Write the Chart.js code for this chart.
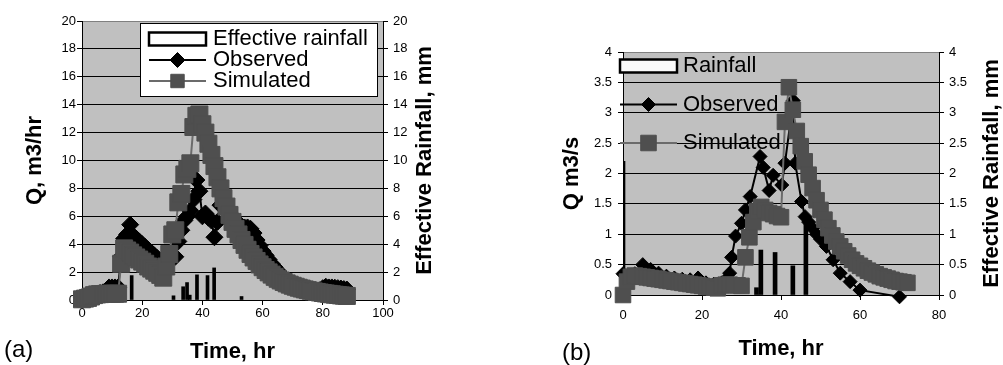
<!DOCTYPE html>
<html>
<head>
<meta charset="utf-8">
<script src="https://cdn.jsdelivr.net/npm/chart.js@4.4.0/dist/chart.umd.min.js"></script>
<style>
  body { margin: 0; background: #fff; width: 1003px; height: 365px; overflow: hidden; position: relative;
         font-family: "Liberation Sans", Arial, sans-serif; }
  canvas { position: absolute; top: 0; }
  #chartA { left: 0; }
  #chartB { left: 500px; }
  .panel { position: absolute; font-size: 24px; line-height: 24px; color: #000; }
</style>
</head>
<body>
<canvas id="chartA" width="460" height="365"></canvas>
<canvas id="chartB" width="503" height="365"></canvas>
<div class="panel" style="left:4px; top:337px">(a)</div>
<div class="panel" style="left:562px; top:340px">(b)</div>
<script>
// ---- (a) hourly discharge, m3/hr, and effective rainfall, mm ----
const hoursA = [0, 1, 2, 3, 4, 5, 6, 7, 8, 9, 10, 11, 12, 13, 14, 15, 16, 17, 18, 19,
    20, 21, 22, 23, 24, 25, 26, 27, 28, 29, 30, 31, 32, 33, 34, 35, 36, 37, 38, 39,
    40, 41, 42, 43, 44, 45, 46, 47, 48, 49, 50, 51, 52, 53, 54, 55, 56, 57, 58, 59,
    60, 61, 62, 63, 64, 65, 66, 67, 68, 69, 70, 71, 72, 73, 74, 75, 76, 77, 78, 79,
    80, 81, 82, 83, 84, 85, 86, 87, 88];
const observedA = [0.2, 0.2, 0.25, 0.3, 0.4, 0.45, 0.5, 0.55, 0.6, 0.9,
    0.9, 0.9, 0.9, 3.1, 4.4, 4.7, 5.4, 4.6, 4.4, 4.2,
    4.0, 3.8, 3.6, 3.4, 3.2, 3.0, 2.8, 2.6, 2.8, 3.0,
    3.2, 3.1, 4.2, 5.0, 5.7, 6.0, 6.4, 7.2, 8.6, 7.8,
    6.0, 6.2, 5.9, 5.7, 4.5, 5.6, 6.8, 6.9, 6.6, 6.3,
    6.0, 5.7, 5.5, 5.3, 5.2, 5.2, 5.1, 4.8, 4.3, 3.9,
    3.5, 3.2, 2.9, 2.6, 2.35, 2.1, 1.85, 1.6, 1.4, 1.25,
    1.1, 1.0, 0.9, 0.82, 0.75, 0.7, 0.65, 0.62, 0.6, 0.7,
    0.85, 0.95, 0.9, 0.9, 0.88, 0.85, 0.82, 0.78, 0.75];
const simulatedA = [0.05, 0.1, 0.15, 0.25, 0.35, 0.4, 0.42, 0.43, 0.44, 0.45,
    0.45, 0.45, 0.45, 2.6, 3.7, 3.55, 3.4, 3.2, 3.05, 2.9,
    2.75, 2.6, 2.4, 2.25, 2.1, 1.95, 1.8, 1.6, 2.4, 3.3,
    4.7, 5.0, 7.0, 7.6, 9.0, 9.4, 9.8, 12.4, 13.2, 13.3,
    12.6, 12.0, 11.2, 10.4, 9.6, 8.8, 8.0, 7.3, 6.7, 6.1,
    5.6, 5.1, 4.7, 4.3, 3.95, 3.6, 3.3, 3.05, 2.8, 2.55,
    2.35, 2.15, 1.98, 1.82, 1.66, 1.52, 1.4, 1.29, 1.19, 1.1,
    1.02, 0.95, 0.88, 0.82, 0.76, 0.71, 0.66, 0.62, 0.58, 0.54,
    0.5, 0.47, 0.44, 0.41, 0.38, 0.36, 0.33, 0.31, 0.29];
const rainHoursA = [16.5, 30.4, 33.6, 34.9, 35.8, 38.2, 41.7, 43.9, 53];
const rainA = [1.75, 0.3, 0.95, 1.25, 0.35, 1.8, 1.75, 2.3, 0.25];

// ---- (b) discharge, m3/s, and rainfall, mm ----
const obsHoursB = [0, 1, 2, 3, 5, 7, 9, 11, 13, 15, 17, 19, 21, 23, 25, 26, 27, 27.5, 28.5, 30,
    31, 32.2, 34.7, 35.5, 37, 38, 40.2, 41, 43.1, 43.6, 45.2, 46.1, 47, 48, 49, 50, 51.5, 53.2, 55, 57.5,
    60, 70];
const observedB = [0.35, 0.3, 0.3, 0.35, 0.5, 0.42, 0.36, 0.31, 0.28, 0.26, 0.25, 0.28, 0.2, 0.18, 0.2, 0.25, 0.36, 0.62, 0.97, 1.18,
    1.4, 1.62, 2.28, 2.1, 1.72, 1.97, 1.81, 2.17, 3.2, 2.17, 1.54, 1.29, 1.2, 1.1, 1.0, 0.92, 0.8, 0.58, 0.36, 0.22,
    0.08, -0.03];
const simHoursB = [0, 1, 2, 3, 4, 5, 6, 7, 8, 9, 10, 11, 12, 13, 14, 15, 16, 17, 18, 19,
    20, 21, 22, 23, 24, 25, 26, 27, 28, 29, 30, 31, 32, 33, 34, 35, 36, 37, 38, 39,
    40, 41, 42, 43, 44, 45, 46, 47, 48, 49, 50, 51, 52, 53, 54, 55, 56, 57, 58, 59,
    60, 61, 62, 63, 64, 65, 66, 67, 68, 69, 70, 71, 72];
const simulatedB = [0.0, 0.22, 0.3, 0.32, 0.31, 0.3, 0.29, 0.28, 0.27, 0.26,
    0.25, 0.24, 0.23, 0.22, 0.21, 0.2, 0.19, 0.18, 0.17, 0.16,
    0.15, 0.14, 0.13, 0.12, 0.11, 0.16, 0.17, 0.17, 0.16, 0.16,
    0.15, 0.62, 0.95, 1.2, 1.38, 1.45, 1.4, 1.35, 1.33, 1.3,
    1.28, 2.85, 3.42, 3.05, 2.7, 2.45, 2.2, 1.98, 1.76, 1.56,
    1.4, 1.24, 1.1, 0.98, 0.88, 0.8, 0.72, 0.65, 0.58, 0.52,
    0.48, 0.44, 0.4, 0.37, 0.34, 0.31, 0.29, 0.27, 0.25, 0.23,
    0.22, 0.21, 0.2];
const rainHoursB = [0, 33.8, 34.9, 38.5, 43, 46.3];
const rainB = [2.2, 0.12, 0.74, 0.7, 0.48, 1.28];

const FONT = '"Liberation Sans", Arial, sans-serif';
Chart.defaults.font.family = FONT;
Chart.defaults.color = '#000';

const pairs = (xs, ys) => xs.map((x, i) => ({ x: x, y: ys[i] }));

// grey plot area
const plotBackground = {
    id: 'plotBackground',
    beforeDraw(chart, args, opts) {
        const { ctx, chartArea: a } = chart;
        ctx.save();
        ctx.fillStyle = opts.color;
        ctx.fillRect(a.left, a.top, a.right - a.left, a.bottom - a.top);
        ctx.restore();
    }
};

// right axis title, reading bottom to top like the left one
const rightTitle = {
    id: 'rightTitle',
    afterDraw(chart, args, opts) {
        const { ctx, chartArea: a } = chart;
        ctx.save();
        ctx.translate(a.right + opts.offset, (a.top + a.bottom) / 2);
        ctx.rotate(-Math.PI / 2);
        ctx.font = 'bold 22px ' + FONT;
        ctx.fillStyle = '#000';
        ctx.textAlign = 'center';
        ctx.textBaseline = 'middle';
        ctx.fillText(opts.text, 0, 0);
        ctx.restore();
    }
};

// legend with a bar swatch or a line+marker sample per dataset
const seriesLegend = {
    id: 'seriesLegend',
    afterDraw(chart, args, opts) {
        const ctx = chart.ctx;
        ctx.save();
        if (opts.box) {
            const b = opts.box;
            ctx.fillStyle = '#fff';
            ctx.fillRect(b.x, b.y, b.w, b.h);
            ctx.strokeStyle = '#000';
            ctx.lineWidth = 1;
            ctx.strokeRect(b.x + 0.5, b.y + 0.5, b.w - 1, b.h - 1);
        }
        chart.data.datasets.forEach((ds, i) => {
            const y = opts.y + i * opts.rowHeight;
            const x0 = opts.x, x1 = opts.x + opts.symbolWidth;
            if (ds.type === 'bar') {
                ctx.fillStyle = opts.swatchFill;
                ctx.fillRect(x0, y - 6.5, x1 - x0, 13);
                ctx.strokeStyle = ds.backgroundColor;
                ctx.lineWidth = 2.5;
                ctx.strokeRect(x0, y - 6.5, x1 - x0, 13);
            } else {
                ctx.strokeStyle = ds.borderColor;
                ctx.lineWidth = ds.borderWidth;
                ctx.beginPath();
                ctx.moveTo(x0, y);
                ctx.lineTo(x1, y);
                ctx.stroke();
                ctx.fillStyle = ds.pointBackgroundColor;
                ctx.strokeStyle = ds.pointBorderColor;
                ctx.lineWidth = ds.pointBorderWidth;
                Chart.helpers.drawPoint(ctx, {
                    pointStyle: ds.pointStyle, radius: opts.markerRadius[i],
                    rotation: 0, borderWidth: ds.pointBorderWidth
                }, (x0 + x1) / 2, y);
            }
            ctx.fillStyle = '#000';
            ctx.font = '22px ' + FONT;
            ctx.textAlign = 'left';
            ctx.textBaseline = 'middle';
            ctx.fillText(ds.label, opts.textX, y);
        });
        ctx.restore();
    }
};

const tickFont = { size: 13 };
const titleFont = { size: 22, weight: 'bold' };
const gridColor = max => c => c.tick.value === max ? '#808080' : (c.tick.value === 0 ? 'rgba(0,0,0,0)' : '#000');

function buildChart(id, d) {
    return new Chart(document.getElementById(id), {
        type: 'line',
        data: {
            datasets: [
                {
                    type: 'bar', label: d.rainLabel, data: pairs(d.rainX, d.rainY), yAxisID: 'y2',
                    backgroundColor: '#000', borderWidth: 0,
                    barThickness: d.barWidth, order: 2
                },
                {
                    label: 'Observed', data: pairs(d.obsX, d.obsY), yAxisID: 'y',
                    borderColor: '#000', borderWidth: 2, tension: 0,
                    pointStyle: 'rectRot', pointRadius: d.diamond, pointBackgroundColor: '#000',
                    pointBorderColor: '#000', pointBorderWidth: 1, clip: false, order: 1
                },
                {
                    label: 'Simulated', data: pairs(d.simX, d.simY), yAxisID: 'y',
                    borderColor: '#6b6b6b', borderWidth: 2, tension: 0,
                    pointStyle: 'rect', pointRadius: d.square, pointBackgroundColor: '#4f4f4f',
                    pointBorderColor: '#4f4f4f', pointBorderWidth: 1, clip: false, order: 0
                }
            ]
        },
        options: {
            responsive: false,
            animation: false,
            events: [],
            layout: { padding: { top: d.top, left: 0, right: 0, bottom: 0 } },
            plugins: {
                legend: { display: false },
                tooltip: { enabled: false },
                plotBackground: { color: '#c0c0c0' },
                rightTitle: { text: 'Effective Rainfall, mm', offset: d.rightTitleOffset },
                seriesLegend: d.legend
            },
            scales: {
                x: {
                    type: 'linear', min: 0, max: d.xMax, offset: false,
                    ticks: { stepSize: 20, font: tickFont, padding: d.xTickPad, maxRotation: 0, callback: v => v },
                    grid: { offset: false, drawOnChartArea: false, color: '#000', tickLength: 5 },
                    border: { color: '#000' },
                    title: { display: true, text: 'Time, hr', font: titleFont, padding: { bottom: d.xTitlePad } },
                    afterFit: s => { s.height = d.xHeight; }
                },
                y: {
                    position: 'left', min: 0, max: d.yMax,
                    ticks: { stepSize: d.yStep, font: tickFont, padding: d.yTickPad, callback: v => v },
                    grid: { color: gridColor(d.yMax), tickColor: '#000', tickLength: 5 },
                    border: { color: '#000' },
                    title: { display: true, text: d.yTitle, font: titleFont, padding: { top: d.yTitlePad } },
                    afterFit: s => { s.width = d.leftWidth; }
                },
                y2: {
                    position: 'right', min: 0, max: d.yMax,
                    ticks: { stepSize: d.yStep, font: tickFont, padding: 5, callback: v => v },
                    grid: { drawOnChartArea: false, color: '#000', tickLength: 5 },
                    border: { color: '#000' },
                    afterFit: s => { s.width = d.rightWidth; }
                }
            }
        },
        plugins: [plotBackground, rightTitle, seriesLegend]
    });
}

buildChart('chartA', {
    rainLabel: 'Effective rainfall', rainX: rainHoursA, rainY: rainA, barWidth: 3,
    obsX: hoursA, obsY: observedA, simX: hoursA, simY: simulatedA,
    diamond: 8.5, square: 12,
    top: 21, xMax: 100, xHeight: 65, xTickPad: 1, xTitlePad: 0,
    yMax: 20, yStep: 2, yTickPad: 1, yTitle: 'Q, m3/hr', yTitlePad: 22,
    leftWidth: 82, rightWidth: 77, rightTitleOffset: 42,
    legend: { box: { x: 140, y: 23, w: 238, h: 74 }, x: 149, symbolWidth: 57, textX: 213, y: 39, rowHeight: 21,
              swatchFill: '#fff', markerRadius: [0, 7.5, 9.5] }
});

buildChart('chartB', {
    rainLabel: 'Rainfall', rainX: rainHoursB, rainY: rainB, barWidth: 4,
    obsX: obsHoursB, obsY: observedB, simX: simHoursB, simY: simulatedB,
    diamond: 7, square: 11,
    top: 52, xMax: 80, xHeight: 70, xTickPad: 8, xTitlePad: 3,
    yMax: 4, yStep: 0.5, yTickPad: 6, yTitle: 'Q m3/s', yTitlePad: 59,
    leftWidth: 123, rightWidth: 64, rightTitleOffset: 53,
    legend: { box: null, x: 120, symbolWidth: 57, textX: 183, y: 66, rowHeight: 38.5,
              swatchFill: '#fafafa', markerRadius: [0, 7, 11] }
});
</script>
</body>
</html>
